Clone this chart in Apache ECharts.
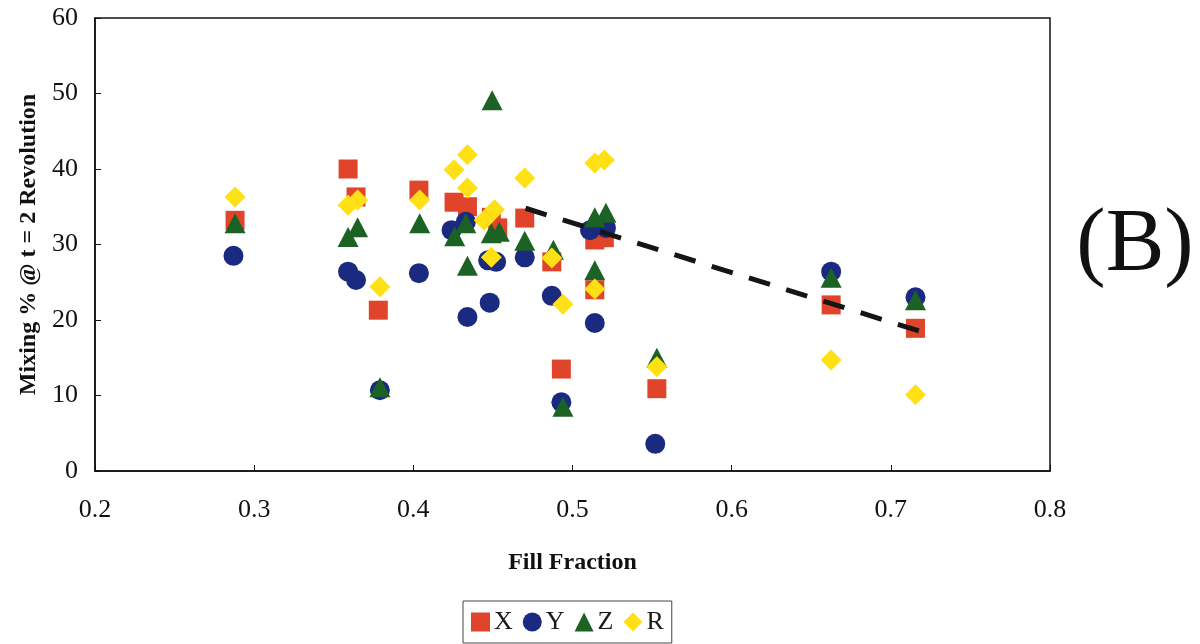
<!DOCTYPE html>
<html>
<head>
<meta charset="utf-8">
<title>Mixing % vs Fill Fraction</title>
<script src="https://cdn.jsdelivr.net/npm/echarts@6/dist/echarts.min.js"></script>
<style>
  html, body { margin: 0; padding: 0; background: #fff; }
  #chart { width: 1200px; height: 644px; }
</style>
</head>
<body>
<div id="chart"></div>
<script>
// Fill fraction (x) and mixing % at t = 2 revolutions (y) for each tracer direction
const fillX = [0.288, 0.359, 0.364, 0.378, 0.4035, 0.4256, 0.434, 0.449, 0.453, 0.470, 0.487, 0.493, 0.514, 0.520, 0.514, 0.553, 0.6625, 0.7155];
const mixX  = [33.2, 40.0, 36.3, 21.3, 37.2, 35.6, 35.0, 33.6, 32.2, 33.5, 27.7, 13.5, 30.6, 30.9, 24.0, 10.9, 22.0, 18.9];

const fillY = [0.287, 0.359, 0.364, 0.379, 0.4035, 0.424, 0.433, 0.434, 0.447, 0.452, 0.448, 0.470, 0.487, 0.493, 0.511, 0.521, 0.514, 0.552, 0.6625, 0.7155];
const mixY  = [28.5, 26.4, 25.3, 10.7, 26.2, 31.9, 33.0, 20.4, 27.9, 27.7, 22.3, 28.3, 23.2, 9.1, 31.9, 32.2, 19.6, 3.6, 26.4, 23.0];

const fillZ = [0.288, 0.359, 0.365, 0.379, 0.404, 0.426, 0.433, 0.434, 0.4495, 0.449, 0.454, 0.470, 0.488, 0.494, 0.514, 0.521, 0.514, 0.553, 0.6625, 0.7155];
const mixZ  = [32.8, 31.0, 32.3, 11.1, 32.8, 31.1, 32.8, 27.2, 49.1, 31.5, 31.7, 30.5, 29.3, 8.5, 33.6, 34.2, 26.6, 15.0, 25.6, 22.6];

const fillR = [0.288, 0.359, 0.365, 0.379, 0.404, 0.4256, 0.434, 0.434, 0.4445, 0.451, 0.449, 0.470, 0.487, 0.494, 0.514, 0.520, 0.514, 0.553, 0.6625, 0.7155];
const mixR  = [36.3, 35.2, 35.9, 24.4, 35.9, 39.9, 41.9, 37.5, 33.2, 34.6, 28.3, 38.8, 28.2, 22.1, 40.8, 41.2, 24.1, 13.8, 14.7, 10.1];

// Dashed trend line over the high fill fractions
const trendFill = [0.4705, 0.7185];
const trendMix  = [34.8, 18.5];

const xTicks = { min: 0.2, max: 0.8, step: 0.1 };
const yTicks = { min: 0, max: 60, step: 10 };

const pairs = (xs, ys) => xs.map((v, i) => [v, ys[i]]);

const serif = '"Liberation Serif", "Times New Roman", serif';

const chart = echarts.init(document.getElementById('chart'), null, { renderer: 'canvas' });

chart.setOption({
  backgroundColor: '#ffffff',
  animation: false,
  grid: {
    left: 95, top: 18, width: 955, height: 453,
    show: true, borderColor: '#111', borderWidth: 1.5, backgroundColor: 'transparent'
  },
  xAxis: {
    type: 'value',
    min: xTicks.min, max: xTicks.max, interval: xTicks.step,
    name: 'Fill Fraction',
    nameLocation: 'middle',
    nameGap: 80,
    nameTextStyle: { fontFamily: serif, fontWeight: 'bold', fontSize: 24, color: '#111' },
    axisLine: { show: true, lineStyle: { color: '#111', width: 1.5 } },
    axisTick: { show: true, inside: true, length: 6, lineStyle: { color: '#111', width: 1 } },
    axisLabel: {
      margin: 26, fontFamily: serif, fontSize: 26, color: '#111',
      formatter: v => v.toFixed(1)
    },
    splitLine: { show: false }
  },
  yAxis: {
    type: 'value',
    min: yTicks.min, max: yTicks.max, interval: yTicks.step,
    name: 'Mixing % @ t = 2 Revolution',
    nameLocation: 'middle',
    nameGap: 52,
    nameRotate: 90,
    nameTextStyle: { fontFamily: serif, fontWeight: 'bold', fontSize: 24, color: '#111' },
    axisLine: { show: true, lineStyle: { color: '#111', width: 1.5 } },
    axisTick: { show: true, inside: true, length: 6, lineStyle: { color: '#111', width: 1 } },
    axisLabel: { margin: 17, fontFamily: serif, fontSize: 26, color: '#111' },
    splitLine: { show: false }
  },
  legend: {
    data: ['X', 'Y', 'Z', 'R'],
    left: 463, top: 601,
    orient: 'horizontal',
    itemWidth: 19, itemHeight: 19, itemGap: 10,
    borderColor: '#444', borderWidth: 1,
    padding: [8, 8, 8, 8],
    textStyle: { fontFamily: serif, fontSize: 26, color: '#1a1a1a', padding: [0, 0, 0, -1] }
  },
  graphic: [{
    type: 'text',
    x: 1135, y: 246,
    style: {
      text: '(B)',
      font: '88px "Liberation Serif", serif',
      fill: '#111',
      textAlign: 'center',
      textVerticalAlign: 'middle'
    }
  }],
  series: [
    {
      name: 'X', type: 'scatter', symbol: 'rect', symbolSize: 19,
      itemStyle: { color: '#E0442A', opacity: 1 },
      data: pairs(fillX, mixX), z: 2
    },
    {
      name: 'Y', type: 'scatter', symbol: 'circle', symbolSize: 20,
      itemStyle: { color: '#1A2A80', opacity: 1 },
      data: pairs(fillY, mixY), z: 3
    },
    {
      name: 'Z', type: 'scatter', symbol: 'triangle', symbolSize: [21, 20],
      itemStyle: { color: '#1C6224', opacity: 1 },
      data: pairs(fillZ, mixZ), z: 4
    },
    {
      name: 'R', type: 'scatter', symbol: 'diamond', symbolSize: 21,
      itemStyle: { color: '#FFE014', opacity: 1 },
      data: pairs(fillR, mixR), z: 5
    },
    {
      name: 'trend', type: 'line', symbol: 'none', silent: true,
      lineStyle: { color: '#151515', width: 5, type: [22, 17] },
      data: pairs(trendFill, trendMix), z: 6
    }
  ]
});
</script>
</body>
</html>
